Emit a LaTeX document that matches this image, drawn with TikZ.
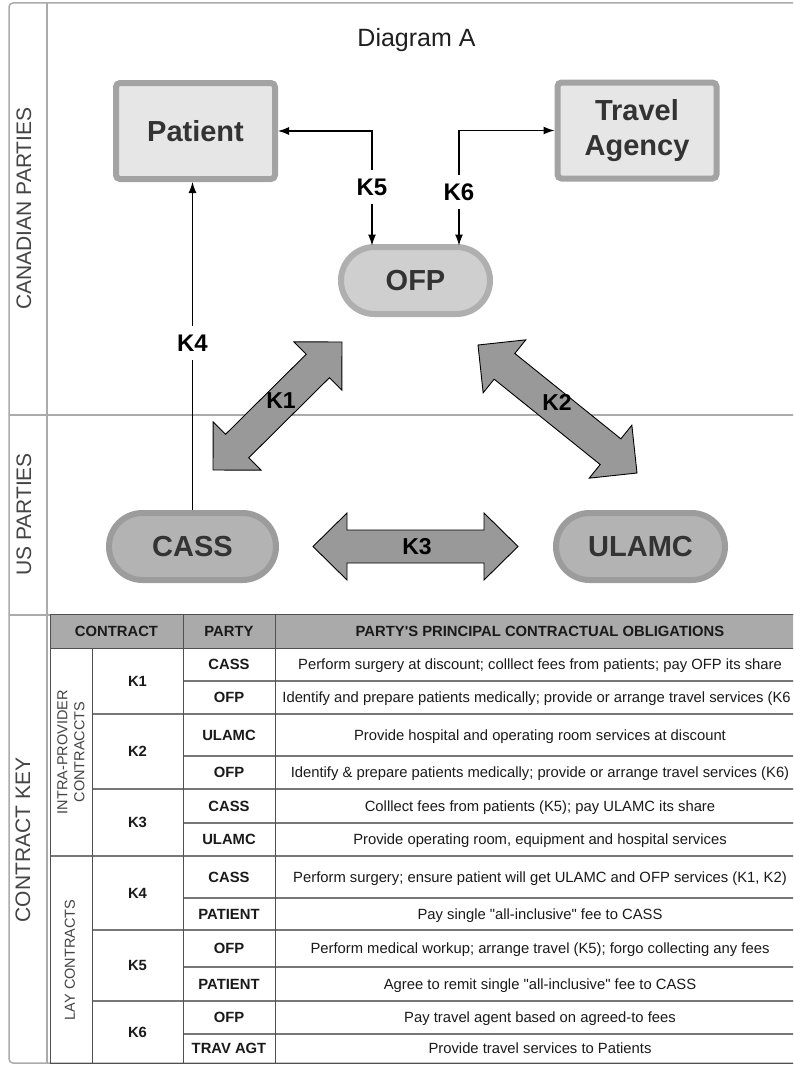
\documentclass[tikz,border=0pt]{standalone}
\usepackage{fontspec}
\setmainfont{Liberation Sans}[Ligatures=TeXOff]
\usetikzlibrary{calc,arrows.meta}
\definecolor{laneline}{HTML}{ABABAB}
\definecolor{lanetext}{HTML}{444444}
\definecolor{boxborder}{HTML}{A3A3A3}
\definecolor{boxfill}{HTML}{E6E6E6}
\definecolor{ofpfill}{HTML}{CFCFCF}
\definecolor{ofpborder}{HTML}{AFAFAF}
\definecolor{usfill}{HTML}{B3B3B3}
\definecolor{usborder}{HTML}{9C9C9C}
\definecolor{nodetext}{HTML}{333333}
\definecolor{bigarrow}{HTML}{999999}
\definecolor{headfill}{HTML}{AAAAAA}
\definecolor{tabline}{HTML}{505050}
\definecolor{rowline}{HTML}{777777}
\definecolor{tabtext}{HTML}{1A1A1A}
% double block arrow between two coordinates: head length, head half width, shaft half width
\newcommand\blockdbl[5]{%
  \path (#1) coordinate (da) (#2) coordinate (db);
  \draw[bigarrowstyle] (da)
   -- ($(da)!#3!(db)!#4!90:(db)$)
   -- ($(da)!#3!(db)!#5!90:(db)$)
   -- ($(db)!#3!(da)!#5!-90:(da)$)
   -- ($(db)!#3!(da)!#4!-90:(da)$)
   -- (db)
   -- ($(db)!#3!(da)!#4!90:(da)$)
   -- ($(db)!#3!(da)!#5!90:(da)$)
   -- ($(da)!#3!(db)!#5!-90:(db)$)
   -- ($(da)!#3!(db)!#4!-90:(db)$)
   -- cycle;}
\begin{document}
\begin{tikzpicture}[x=1pt,y=-1pt,
  lane/.style={draw=laneline, line width=1.5pt},
  lanelabel/.style={rotate=90, text=lanetext, font=\fontsize{21}{25}\selectfont, inner sep=0pt, align=center},
  grouplabel/.style={rotate=90, text=lanetext, font=\fontsize{14.5}{17}\selectfont, inner sep=0pt, align=center},
  partybox/.style={draw=boxborder, fill=boxfill, line width=6pt, rounded corners=4pt,
     minimum width=159pt, minimum height=96pt, text=nodetext,
     font=\fontsize{29}{35}\selectfont\bfseries, align=center},
  stadium/.style={line width=6pt, rounded corners=33.5pt, minimum height=67pt,
     text=nodetext, font=\fontsize{29}{35}\selectfont\bfseries, inner sep=0pt},
  caflow/.style={stadium, draw=ofpborder, fill=ofpfill, minimum width=149pt},
  usflow/.style={stadium, draw=usborder, fill=usfill},
  conn/.style={draw=black, line width=1.1pt},
  tip/.tip={Latex[length=11pt,width=8pt]},
  klabel/.style={fill=white, font=\fontsize{24}{28}\selectfont\bfseries, text=black,
     text height=17pt, text depth=0pt, inner xsep=1pt, inner ysep=8.5pt},
  bigklabel/.style={font=\fontsize{23}{27}\selectfont\bfseries, text=black, inner sep=0pt},
  bigarrowstyle/.style={fill=bigarrow, draw=black, line width=0.9pt, line join=miter},
  tabv/.style={draw=tabline, line width=1pt},
  tabh/.style={draw=rowline, line width=1.3pt},
  cellbold/.style={font=\fontsize{14.8}{17}\selectfont\bfseries, text=tabtext, text height=10.5pt, text depth=0pt, inner sep=0pt},
  celltext/.style={font=\fontsize{14.8}{17}\selectfont, text=tabtext, text height=10.5pt, text depth=0pt, inner sep=0pt}
]
\useasboundingbox (0,0) rectangle (793,1065);
\clip (0,0) rectangle (793,1065);
\fill[white] (0,0) rectangle (793,1065);

% ---- swimlane frame ----
\draw[lane, rounded corners=4pt] (830,3) -- (9,3) -- (9,1063) -- (830,1063);
\draw[lane] (9,415) -- (830,415);
\draw[lane] (9,615) -- (830,615);
\draw[lane] (47,3) -- (47,1063);
\node[lanelabel] (lanecan) at (24,208.5) {CANADIAN PARTIES};
\node[lanelabel] (laneus) at (24,514.5) {US PARTIES};
\node[lanelabel] (lanekey) at (23,840) {CONTRACT KEY};

% ---- title ----
\node[font=\fontsize{25}{30}\selectfont, text=black!88, anchor=base, inner sep=0pt] (title) at (416.5,47) {Diagram A};

% ---- parties ----
\node[partybox] (patient) at (195.5,131) {Patient};
\node[partybox] (travel) at (637,130.5) {Travel\\Agency};
\node[caflow] (ofp) at (415.5,280.5) {OFP};
\node[usflow, minimum width=167pt] (cass) at (192.5,546.5) {CASS};
\node[usflow, minimum width=169pt] (ulamc) at (640.5,546.5) {ULAMC};

% ---- thin connectors ----
\draw[conn, tip-tip] (patient.east) -| ($(ofp.north)+(-43.5,1.5)$)
   node[klabel, pos=0.743] (k5) {K5};
\draw[conn, tip-tip] (travel.west) -| ($(ofp.north)+(43.5,1.5)$)
   node[klabel, pos=0.766] (k6) {K6};
\draw[conn, -tip] (cass.north) -- (cass.north |- patient.south)
   node[klabel, pos=0.509] (k4) {K4};

% ---- block arrows ----
\blockdbl{213,470}{342,342}{34pt}{34pt}{16.5pt}
\blockdbl{478,345}{637,473}{34pt}{34pt}{16.5pt}
\blockdbl{313,546.5}{518,546.5}{34pt}{33.5pt}{16.5pt}
\node[bigklabel] (k1) at (281,401) {K1};
\node[bigklabel] (k2) at (557,402) {K2};
\node[bigklabel] (k3) at (417,547) {K3};

% ---- contract key table ----
\fill[headfill] (50,614) rectangle (810,648);
\draw[tabh] (183,681) -- (810,681);
\draw[tabh] (183,756) -- (810,756);
\draw[tabh] (183,823) -- (810,823);
\draw[tabh] (183,898) -- (810,898);
\draw[tabh] (183,967) -- (810,967);
\draw[tabh] (183,1034) -- (810,1034);
\draw[tabh] (92,714) -- (810,714);
\draw[tabh] (92,789) -- (810,789);
\draw[tabh] (92,930) -- (810,930);
\draw[tabh] (92,1001) -- (810,1001);
\draw[tabh] (50,856) -- (810,856);
\draw[tabv] (50,614) -- (810,614);
\draw[tabv] (50,648) -- (810,648);
\draw[tabv] (50,1063) -- (810,1063);
\draw[tabv] (50,614) -- (50,1063);
\draw[tabv] (92,648) -- (92,1063);
\draw[tabv] (183,614) -- (183,1063);
\draw[tabv] (275,614) -- (275,1063);

\node[cellbold] (hcontract) at (116.5,631) {CONTRACT};
\node[cellbold] (hparty) at (229,631) {PARTY};
\node[cellbold] (hoblig) at (540,631) {PARTY'S PRINCIPAL CONTRACTUAL OBLIGATIONS};

\node[grouplabel] (gintra) at (71,752) {INTRA-PROVIDER\\CONTRACCTS};
\node[grouplabel] (glay) at (70,960) {LAY CONTRACTS};

\node[cellbold] (c1) at (137.5,681) {K1};
\node[cellbold] (c2) at (137.5,751.5) {K2};
\node[cellbold] (c3) at (137.5,822.5) {K3};
\node[cellbold] (c4) at (137.5,893) {K4};
\node[cellbold] (c5) at (137.5,965.5) {K5};
\node[cellbold] (c6) at (137.5,1032) {K6};

\node[cellbold] (p1) at (229,664.5) {CASS};
\node[cellbold] (p2) at (229,697.5) {OFP};
\node[cellbold] (p3) at (229,735) {ULAMC};
\node[cellbold] (p4) at (229,772.5) {OFP};
\node[cellbold] (p5) at (229,806) {CASS};
\node[cellbold] (p6) at (229,839.5) {ULAMC};
\node[cellbold] (p7) at (229,877) {CASS};
\node[cellbold] (p8) at (229,914) {PATIENT};
\node[cellbold] (p9) at (229,948.5) {OFP};
\node[cellbold] (p10) at (229,984) {PATIENT};
\node[cellbold] (p11) at (229,1017.5) {OFP};
\node[cellbold] (p12) at (229,1048.5) {TRAV AGT};

\node[celltext] (o1) at (540,664.5) {Perform surgery at discount; colllect fees from patients; pay OFP its share};
\node[celltext, anchor=east] (o2) at (791,697.5) {Identify and prepare patients medically; provide or arrange travel services (K6};
\node[celltext] (o3) at (540,735) {Provide hospital and operating room services at discount};
\node[celltext] (o4) at (540,772.5) {Identify \& prepare patients medically; provide or arrange travel services (K6)};
\node[celltext] (o5) at (540,806) {Colllect fees from patients (K5); pay ULAMC its share};
\node[celltext] (o6) at (540,839.5) {Provide operating room, equipment and hospital services};
\node[celltext] (o7) at (540,877) {Perform surgery; ensure patient will get ULAMC and OFP services (K1, K2)};
\node[celltext] (o8) at (540,914) {Pay single "all-inclusive" fee to CASS};
\node[celltext] (o9) at (540,948.5) {Perform medical workup; arrange travel (K5); forgo collecting any fees};
\node[celltext] (o10) at (540,984) {Agree to remit single "all-inclusive" fee to CASS};
\node[celltext] (o11) at (540,1017.5) {Pay travel agent based on agreed-to fees};
\node[celltext] (o12) at (540,1048.5) {Provide travel services to Patients};
\end{tikzpicture}
\end{document}
